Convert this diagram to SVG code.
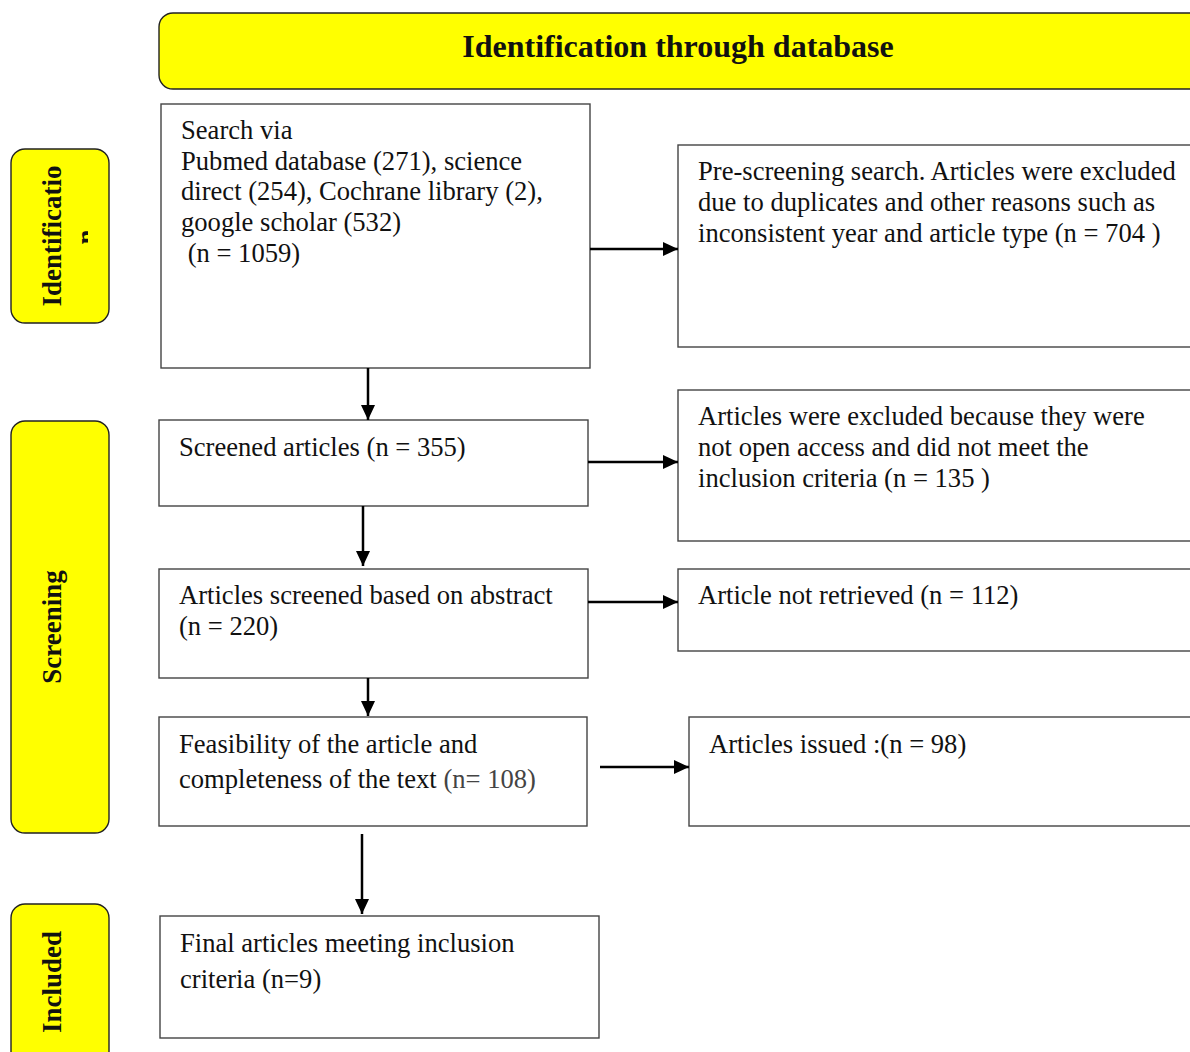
<svg xmlns="http://www.w3.org/2000/svg" width="1190" height="1052" viewBox="0 0 1190 1052">
<defs>
<marker id="ah" markerWidth="15" markerHeight="14" refX="15" refY="7" orient="auto" markerUnits="userSpaceOnUse" viewBox="0 0 15 14">
<path d="M0,0 L15,7 L0,14 z" fill="#000"/>
</marker>
<clipPath id="nclip"><rect x="0" y="0" width="88" height="1052"/></clipPath>
<style>
.box{fill:#fff;stroke:#444;stroke-width:1.4}
.band{fill:#ffff00;stroke:#222;stroke-width:1.4}
.t{font-family:"Liberation Serif","Times New Roman",serif;font-size:26.6px;fill:#111}
.b{font-family:"Liberation Serif","Times New Roman",serif;font-weight:bold;fill:#111}
.c{stroke:#000;stroke-width:2.5;fill:none;marker-end:url(#ah)}
</style>
</defs>
<rect width="1190" height="1052" fill="#fff"/>
<g id="banner">
<rect class="band" x="159" y="13" width="1060" height="76" rx="14"/>
<text class="b" x="678" y="57" font-size="32" text-anchor="middle">Identification through database</text>
</g>
<g id="phase-identification">
<rect class="band" x="11" y="149" width="98" height="174" rx="14"/>
<text class="b" font-size="27" text-anchor="middle" transform="translate(61,236) rotate(-90)">Identificatio</text>
<g clip-path="url(#nclip)">
<text class="b" font-size="27" text-anchor="middle" transform="translate(95,237) rotate(-90)">n</text>
</g>
</g>
<g id="phase-screening">
<rect class="band" x="11" y="421" width="98" height="412" rx="14"/>
<text class="b" font-size="27" text-anchor="middle" transform="translate(61,627) rotate(-90)">Screening</text>
</g>
<g id="phase-included">
<rect class="band" x="11" y="904" width="98" height="170" rx="14"/>
<text class="b" font-size="27" text-anchor="middle" transform="translate(61,982) rotate(-90)">Included</text>
</g>
<g id="search">
<rect class="box" x="161" y="104" width="429" height="264"/>
<text class="t" x="181" y="139">Search via</text>
<text class="t" x="181" y="170">Pubmed database (271), science</text>
<text class="t" x="181" y="200">direct (254), Cochrane library (2),</text>
<text class="t" x="181" y="231">google scholar (532)</text>
<text class="t" x="181" y="262" xml:space="preserve"> (n = 1059)</text>
</g>
<g id="prescreen">
<rect class="box" x="678" y="145" width="540" height="202"/>
<text class="t" x="698" y="180">Pre-screening search. Articles were excluded</text>
<text class="t" x="698" y="211">due to duplicates and other reasons such as</text>
<text class="t" x="698" y="242">inconsistent year and article type (n = 704 )</text>
</g>
<g id="screened">
<rect class="box" x="159" y="420" width="429" height="86"/>
<text class="t" x="179" y="456">Screened articles (n = 355)</text>
</g>
<g id="excluded-access">
<rect class="box" x="678" y="390" width="540" height="151"/>
<text class="t" x="698" y="425">Articles were excluded because they were</text>
<text class="t" x="698" y="456">not open access and did not meet the</text>
<text class="t" x="698" y="487">inclusion criteria (n = 135 )</text>
</g>
<g id="abstract">
<rect class="box" x="159" y="569" width="429" height="109"/>
<text class="t" x="179" y="604">Articles screened based on abstract</text>
<text class="t" x="179" y="635">(n = 220)</text>
</g>
<g id="not-retrieved">
<rect class="box" x="678" y="569" width="540" height="82"/>
<text class="t" x="698" y="604">Article not retrieved (n = 112)</text>
</g>
<g id="feasibility">
<rect class="box" x="159" y="717" width="428" height="109"/>
<text class="t" x="179" y="753">Feasibility of the article and</text>
<text class="t" x="179" y="788">completeness of the text <tspan fill="#444">(n= 108)</tspan></text>
</g>
<g id="issued">
<rect class="box" x="689" y="717" width="530" height="109"/>
<text class="t" x="709" y="753">Articles issued :(n = 98)</text>
</g>
<g id="final">
<rect class="box" x="160" y="916" width="439" height="122"/>
<text class="t" x="180" y="952">Final articles meeting inclusion</text>
<text class="t" x="180" y="988">criteria (n=9)</text>
</g>
<g id="connectors">
<line class="c" x1="590" y1="249" x2="678" y2="249"/>
<line class="c" x1="368" y1="368" x2="368" y2="420"/>
<line class="c" x1="588" y1="462" x2="678" y2="462"/>
<line class="c" x1="363" y1="506" x2="363" y2="566"/>
<line class="c" x1="588" y1="602" x2="678" y2="602"/>
<line class="c" x1="368" y1="678" x2="368" y2="716"/>
<line class="c" x1="600" y1="767" x2="689" y2="767"/>
<line class="c" x1="362" y1="834" x2="362" y2="914"/>
</g>
</svg>
